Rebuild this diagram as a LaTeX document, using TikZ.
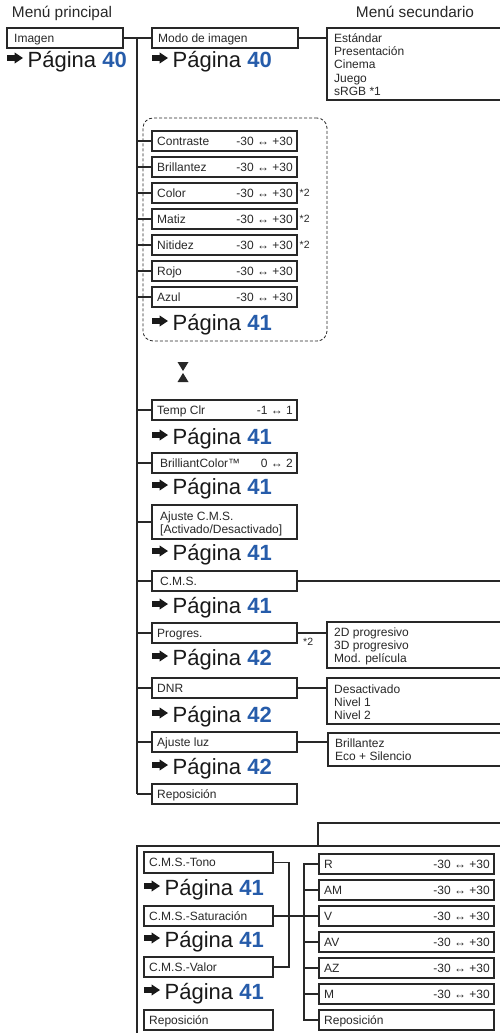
\documentclass[tikz,border=0pt]{standalone}
\usepackage{fontspec}
\setmainfont{Liberation Sans}
\definecolor{pblue}{RGB}{38,92,170}
\definecolor{ink}{RGB}{40,40,40}
\newcommand\tbox[7]{% name, x, ytop, width, label, value, label shift
  \node[box, minimum width=#4pt, minimum height=20pt] (#1) at (#2,#3) {};
  \node[lbl] (#1-l) at ([xshift=#7pt,yshift=-4.2pt]#1.west) {#5};
  \node[val] (#1-v) at ([xshift=-4pt,yshift=-4.2pt]#1.east) {#6};}
\newcommand\pg[4]{% name, arrow x, baseline, number
  \pic at (#2,#3-9) {parr};
  \node[pag] (#1) at (#2+20.5,#3) {Página \textcolor{pblue}{\textbf{#4}}};}
\begin{document}
\begin{tikzpicture}[x=1pt,y=-1pt,
 box/.style={draw=ink, line width=1.1pt, inner sep=0pt, outer sep=0pt, anchor=north west, fill=white},
 lbl/.style={inner sep=0pt, anchor=base west, font=\fontsize{12}{13.3}\selectfont, text=ink},
 val/.style={inner sep=0pt, anchor=base east, font=\fontsize{12}{13.3}\selectfont, text=ink},
 sub/.style={inner sep=0pt, anchor=north west, align=left, font=\fontsize{12}{13.3}\selectfont, text=ink},
 note/.style={inner sep=0pt, anchor=base west, font=\fontsize{10.5}{11}\selectfont, text=ink},
 pag/.style={inner sep=0pt, anchor=base west, font=\fontsize{22}{24}\selectfont, text=black!90},
 head/.style={inner sep=0pt, anchor=base, font=\fontsize{15.4}{17}\selectfont, text=ink},
 conn/.style={draw=ink, line width=1.1pt},
 grp/.style={draw=ink, line width=0.8pt, dash pattern=on 3pt off 2pt, rounded corners=10pt, inner sep=0pt, outer sep=0pt, anchor=north west},
 parr/.pic={\fill[black!90] (0,-2.9) -- (7.5,-2.9) -- (7.5,-5.6) -- (16,0) -- (7.5,5.6) -- (7.5,2.9) -- (0,2.9) -- cycle;}
]
\useasboundingbox (0,0) rectangle (500,1033);
\clip (0,0) rectangle (500,1033);

% headings
\node[head] (hmain) at (62,18) {Menú principal};
\node[head] (hsec) at (415,18) {Menú secundario};

% trunk coordinates
\coordinate (tt) at (137,38);
\coordinate (tb) at (137,794);

% dashed group frame
\node[grp, minimum width=184pt, minimum height=223pt] (group) at (143,118) {};

% top level
\tbox{imagen}{7}{28}{116}{Imagen}{}{7}
\pg{pimagen}{7}{67}{40}
\tbox{modo}{152}{28}{146}{Modo de imagen}{}{6}
\pg{pmodo}{152}{67}{40}
\node[box, minimum width=180pt, minimum height=72pt] (modosub) at (327,28) {};
\node[sub] (modosub-t) at (334,31) {\rule{0pt}{11pt}Estándar\\Presentación\\Cinema\\Juego\\sRGB *1};

\draw[conn] (imagen.east) -- (modo.west);
\draw[conn] (modo.east) -- (modo.east -| modosub.west);

% trunk
\draw[conn] (tt) -- (tb);

% dashed group items
\tbox{contraste}{152}{131}{145}{Contraste}{-30 ↔ +30}{5}
\tbox{brillantez}{152}{157}{145}{Brillantez}{-30 ↔ +30}{5}
\tbox{color}{152}{183}{145}{Color}{-30 ↔ +30}{5}
\tbox{matiz}{152}{209}{145}{Matiz}{-30 ↔ +30}{5}
\tbox{nitidez}{152}{235}{145}{Nitidez}{-30 ↔ +30}{5}
\tbox{rojo}{152}{261}{145}{Rojo}{-30 ↔ +30}{5}
\tbox{azul}{152}{287}{145}{Azul}{-30 ↔ +30}{5}
\node[note] (ncolor) at (299.5,196.5) {*2};
\node[note] (nmatiz) at (299.5,222.5) {*2};
\node[note] (nnitidez) at (299.5,248.5) {*2};
\pg{pgroup}{152}{330}{41}

% hourglass
\fill[ink] (177.5,362) -- (188.5,362) -- (183,371) -- cycle;
\fill[ink] (177.5,382) -- (188.5,382) -- (183,373) -- cycle;

\tbox{temp}{152}{400}{145}{Temp Clr}{-1 ↔ 1}{5}
\pg{ptemp}{152}{444}{41}
\tbox{brill}{152}{453}{145}{BrilliantColor™}{0 ↔ 2}{8}
\pg{pbrill}{152}{494}{41}
\node[box, minimum width=145pt, minimum height=34pt] (ajcms) at (152,505) {};
\node[sub] (ajcms-t) at (160,509) {\rule{0pt}{11pt}Ajuste C.M.S.\\{[}Activado/Desactivado{]}};
\pg{pajcms}{152}{560}{41}
\tbox{cms}{152}{571}{145}{C.M.S.}{}{8}
\pg{pcms}{152}{613}{41}
\tbox{progres}{152}{623}{145}{Progres.}{}{5}
\node[note] (nprogres) at (303,645) {*2};
\pg{pprogres}{152}{665}{42}
\tbox{dnr}{152}{678}{145}{DNR}{}{5}
\pg{pdnr}{152}{722}{42}
\tbox{luz}{152}{732}{145}{Ajuste luz}{}{5}
\pg{pluz}{152}{774}{42}
\tbox{rep}{152}{784}{145}{Reposición}{}{5}

% ticks from trunk
\foreach \n in {contraste,brillantez,color,matiz,nitidez,rojo,azul,temp,brill,ajcms,cms,progres,dnr,luz}
  \draw[conn] (\n.west -| tt) -- (\n.west);
\draw[conn] (tb) -- (rep.west);

% submenus
\node[box, minimum width=180pt, minimum height=46pt] (progsub) at (327,622) {};
\node[sub] (progsub-t) at (334,625) {\rule{0pt}{11pt}2D progresivo\\3D progresivo\\Mod. película};
\draw[conn] (progres.east) -- (progres.east -| progsub.west);
\node[box, minimum width=180pt, minimum height=46pt] (dnrsub) at (327,678) {};
\node[sub] (dnrsub-t) at (334,682) {\rule{0pt}{11pt}Desactivado\\Nivel 1\\Nivel 2};
\draw[conn] (dnr.east) -- (dnr.east -| dnrsub.west);
\node[box, minimum width=180pt, minimum height=33pt] (luzsub) at (328,733) {};
\node[sub] (luzsub-t) at (335,736) {\rule{0pt}{11pt}Brillantez\\Eco + Silencio};
\draw[conn] (luz.east) -- (luz.east -| luzsub.west);

% C.M.S. continuation
\coordinate (cmsout) at (500,581);
\draw[conn] (cms.east) -- (cmsout);

% bottom C.M.S. panel
\node[box, minimum width=370pt, minimum height=200pt] (frame) at (137,846) {};
\coordinate (cmsin) at (500,823);
\coordinate (bend) at (318,823);
\draw[conn] (cmsin) -- (bend) -- (bend |- frame.north);

\node[box, minimum width=129pt, minimum height=21pt] (tono) at (144,852) {};
\node[lbl] (tono-l) at ([xshift=5pt,yshift=-4.2pt]tono.west) {C.M.S.-Tono};
\pg{ptono}{144}{895}{41}
\tbox{sat}{144}{906}{129}{C.M.S.-Saturación}{}{5}
\pg{psat}{144}{947}{41}
\tbox{valor}{144}{957}{129}{C.M.S.-Valor}{}{5}
\pg{pvalor}{144}{999}{41}
\tbox{repl}{144}{1010}{129}{Reposición}{}{5}

\tbox{cr}{319}{854}{175}{R}{-30 ↔ +30}{5}
\tbox{cam}{319}{880}{175}{AM}{-30 ↔ +30}{5}
\tbox{cv}{319}{906}{175}{V}{-30 ↔ +30}{5}
\tbox{cav}{319}{932}{175}{AV}{-30 ↔ +30}{5}
\tbox{caz}{319}{958}{175}{AZ}{-30 ↔ +30}{5}
\tbox{cm}{319}{984}{175}{M}{-30 ↔ +30}{5}
\tbox{crep}{319}{1010}{175}{Reposición}{}{5}

\coordinate (lv) at (289,0);
\coordinate (rv) at (304,0);
\draw[conn] (tono.east) -- (tono.east -| lv) -- (valor.east -| lv) -- (valor.east);
\draw[conn] (sat.east) -- (sat.east -| rv);
\draw[conn] (cr.west) -- (cr.west -| rv) -- (crep.west -| rv) -- (crep.west);
\foreach \n in {cam,cv,cav,caz,cm}
  \draw[conn] (\n.west -| rv) -- (\n.west);
\end{tikzpicture}
\end{document}
